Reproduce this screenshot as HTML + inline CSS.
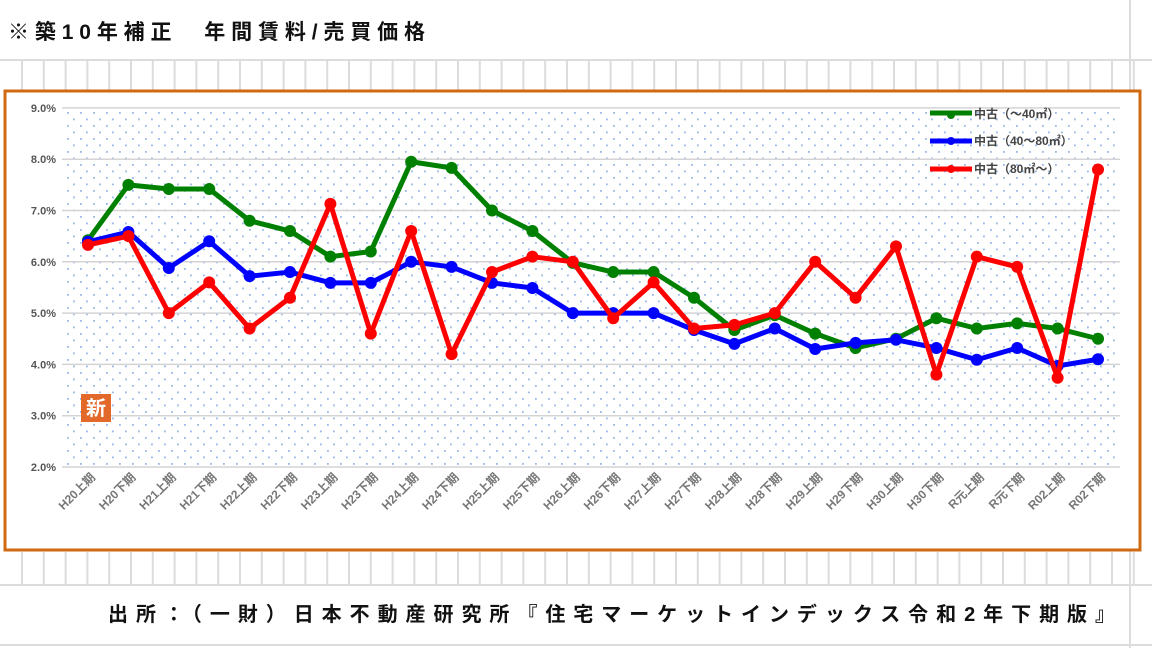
<!DOCTYPE html>
<html><head><meta charset="utf-8">
<style>
html,body{margin:0;padding:0;background:#fff;width:1152px;height:648px;overflow:hidden;font-family:"Liberation Sans","Noto Sans CJK JP",sans-serif;}
</style></head><body>
<svg id="s" width="1152" height="648" xmlns="http://www.w3.org/2000/svg" font-family="'Liberation Sans','Noto Sans CJK JP',sans-serif">
<defs>
<pattern id="dots" x="62" y="110" width="13" height="13" patternUnits="userSpaceOnUse">
<rect x="5" y="2" width="1.8" height="1.8" fill="#9ab8e8"/>
<rect x="11" y="8.5" width="1.8" height="1.8" fill="#9ab8e8"/>
</pattern>
</defs>
<g id="grid" stroke="#dcdcdc" stroke-width="2"></g>
<text x="8" y="39" font-size="21" font-weight="bold" fill="#111" textLength="417" lengthAdjust="spacing">※築10年補正　年間賃料/売買価格</text>
<rect x="5" y="91" width="1135" height="459" fill="#fff" stroke="#d06a10" stroke-width="3"/>
<rect x="62" y="110" width="1058" height="357" fill="url(#dots)"/>
<g id="hl" stroke="#d4d4d4" stroke-width="1.5"></g>
<g id="yl" font-size="11" font-weight="bold" fill="#555" text-anchor="end"></g>
<g id="xl" font-size="12" font-weight="bold" fill="#777"></g>
<g id="series"></g>
<rect x="81" y="394" width="30" height="28" fill="#e2692a"/>
<text x="96" y="415" font-size="20" font-weight="bold" fill="#fff" text-anchor="middle">新</text>
<g font-size="12" font-weight="bold" fill="#444">
<line x1="930" y1="113" x2="972" y2="113" stroke="#008000" stroke-width="5"/><circle cx="951" cy="115" r="4" fill="#008000"/>
<text x="974" y="118">中古（～40㎡）</text>
<line x1="930" y1="141" x2="972" y2="141" stroke="#0000ff" stroke-width="5"/><circle cx="951" cy="141" r="4" fill="#0000ff"/>
<text x="974" y="145">中古（40～80㎡）</text>
<line x1="930" y1="169" x2="972" y2="169" stroke="#ff0000" stroke-width="5"/><circle cx="951" cy="169" r="4" fill="#ff0000"/>
<text x="974" y="173">中古（80㎡～）</text>
</g>
<text x="108" y="621" font-size="20" font-weight="bold" fill="#111" textLength="1007" lengthAdjust="spacing">出所：（一財）日本不動産研究所『住宅マーケットインデックス令和2年下期版』</text>
</svg>
<script>
var ns="http://www.w3.org/2000/svg";
function el(p,t,a,txt){var e=document.createElementNS(ns,t);for(var k in a)e.setAttribute(k,a[k]);if(txt)e.textContent=txt;document.getElementById(p).appendChild(e);return e;}
el("grid","line",{x1:0,y1:60,x2:1152,y2:60});
el("grid","line",{x1:0,y1:585,x2:1152,y2:585});
el("grid","line",{x1:0,y1:645,x2:1152,y2:645});
el("grid","line",{x1:1130,y1:0,x2:1130,y2:648});
for(var x=22;x<1140;x+=21.8){el("grid","line",{x1:x,y1:60,x2:x,y2:90});el("grid","line",{x1:x,y1:552,x2:x,y2:585});}
function Y(v){return 467-(v-2)*51.3;}
for(var v=2;v<=9;v++){var y=Y(v);el("hl","line",{x1:62,y1:y,x2:1120,y2:y});el("yl","text",{x:56,y:y+4},v.toFixed(1)+"%");}
var labs=["H20上期","H20下期","H21上期","H21下期","H22上期","H22下期","H23上期","H23下期","H24上期","H24下期","H25上期","H25下期","H26上期","H26下期","H27上期","H27下期","H28上期","H28下期","H29上期","H29下期","H30上期","H30下期","R元上期","R元下期","R02上期","R02下期"];
function X(i){return 88+i*40.4;}
labs.forEach(function(l,i){var x=X(i)+8,y=478;el("xl","text",{x:x,y:y,"text-anchor":"end",transform:"rotate(-45 "+x+" "+y+")"},l);});
var G=[6.42,7.5,7.42,7.42,6.8,6.6,6.1,6.2,7.95,7.83,7.0,6.6,5.98,5.8,5.8,5.3,4.67,4.96,4.6,4.32,4.5,4.9,4.7,4.8,4.7,4.5];
var B=[6.39,6.58,5.88,6.4,5.72,5.8,5.59,5.59,6.0,5.9,5.59,5.49,5.0,5.0,5.0,4.67,4.4,4.7,4.3,4.42,4.48,4.32,4.09,4.32,3.97,4.1];
var R=[6.33,6.5,5.0,5.6,4.7,5.3,7.13,4.6,6.6,4.2,5.8,6.1,6.0,4.9,5.6,4.7,4.77,5.0,6.0,5.3,6.3,3.8,6.1,5.9,3.74,7.8];
[[G,"#008000"],[B,"#0000ff"],[R,"#ff0000"]].forEach(function(s){
var pts=s[0].map(function(v,i){return X(i)+","+Y(v);}).join(" ");
el("series","polyline",{points:pts,fill:"none",stroke:s[1],"stroke-width":5,"stroke-linejoin":"round"});
s[0].forEach(function(v,i){el("series","circle",{cx:X(i),cy:Y(v),r:6,fill:s[1]});});
});
</script>
</body></html>
